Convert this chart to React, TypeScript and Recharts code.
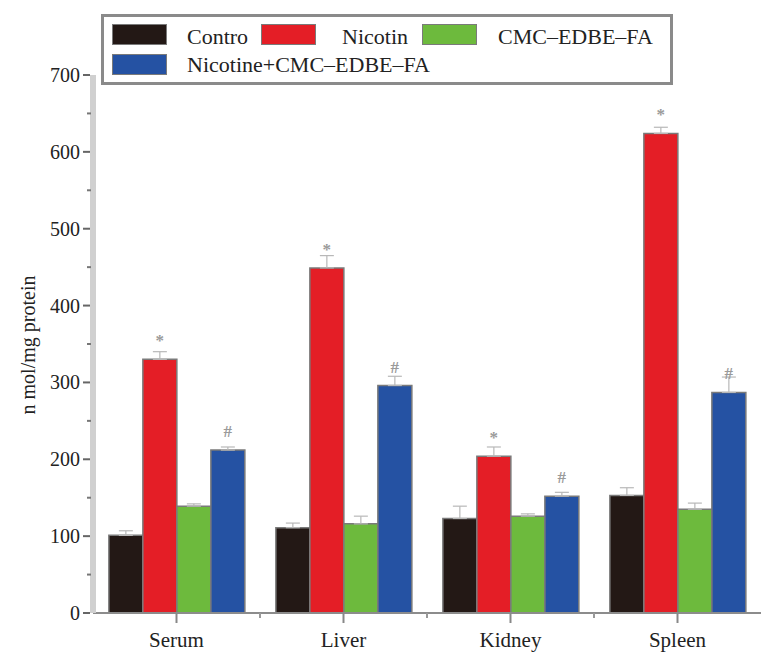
import React from 'react';
import { BarChart, Bar, XAxis, YAxis, ErrorBar, LabelList } from 'recharts';

const categories = ['Serum', 'Liver', 'Kidney', 'Spleen'];
const controlValues = [101, 111, 123, 153];
const nicotinValues = [330, 449, 204, 624];
const cmcValues = [139, 116, 126, 135];
const comboValues = [212, 296, 152, 287];
const controlErrors = [6, 6, 16, 10];
const nicotinErrors = [10, 16, 12, 8];
const cmcErrors = [3, 10, 3, 8];
const comboErrors = [4, 12, 5, 20];
const yTicks = [0, 50, 100, 150, 200, 250, 300, 350, 400, 450, 500, 550, 600, 650, 700];

const seriesNames = ['Contro', 'Nicotin', 'CMC–EDBE–FA', 'Nicotine+CMC–EDBE–FA'];
const seriesColors = ['#231815', '#e41e26', '#6dba3d', '#2552a3'];

const data = categories.map((c, i) => ({
  name: c,
  control: controlValues[i],
  nicotin: nicotinValues[i],
  cmc: cmcValues[i],
  combo: comboValues[i],
  controlErr: [0, controlErrors[i]],
  nicotinErr: [0, nicotinErrors[i]],
  cmcErr: [0, cmcErrors[i]],
  comboErr: [0, comboErrors[i]],
}));

const W = 767;
const H = 662;
const YAXIS_W = 93;
const MARGIN = { top: 75, right: 6, bottom: 0, left: 0 };
const XAXIS_H = 49;
const FONT = 'Liberation Serif, Times New Roman, serif';
const BAND_HALF = (W - MARGIN.right - YAXIS_W) / categories.length / 2;

const YTick = (props: any) => {
  const { x, y, payload } = props;
  const v = payload.value;
  const major = v % 100 === 0;
  return (
    <g>
      {major ? (
        <line x1={x - 10} x2={x - 3} y1={y} y2={y} stroke="#666" strokeWidth={2} />
      ) : (
        <line x1={x - 6} x2={x - 2} y1={y} y2={y} stroke="#777" strokeWidth={2} />
      )}
      {major && (
        <text x={x - 13} y={y} textAnchor="end" dominantBaseline="central" fontFamily={FONT} fontSize={20} fill="#222">
          {v}
        </text>
      )}
    </g>
  );
};

const XTick = (props: any) => {
  const { x, y, payload, index } = props;
  return (
    <g>
      <line x1={x} x2={x} y1={y} y2={y + 10} stroke="#888" strokeWidth={2} />
      {index < categories.length - 1 && (
        <line x1={x + BAND_HALF} x2={x + BAND_HALF} y1={y} y2={y + 5} stroke="#999" strokeWidth={2} />
      )}
      <text x={x} y={y + 34} textAnchor="middle" fontFamily={FONT} fontSize={21} fill="#222">
        {payload.value}
      </text>
    </g>
  );
};

const markLabel = (mark: string) => (props: any) => {
  const { x, y, width } = props;
  return (
    <text x={x + width / 2} y={y - 13} textAnchor="middle" fontFamily={FONT} fontSize={17} fontWeight="bold" fill="#9a9a9a">
      {mark}
    </text>
  );
};

const legendItems = [
  { sx: 112, sy: 24, tx: 187, ty: 26 },
  { sx: 261, sy: 24, tx: 342, ty: 26 },
  { sx: 422, sy: 24, tx: 498, ty: 26 },
  { sx: 112, sy: 54, tx: 187, ty: 54 },
];

export default function App() {
  return (
    <div style={{ position: 'absolute', left: 0, top: 0, width: W, height: H, background: '#fff' }}>
      <BarChart
        width={W}
        height={H}
        data={data}
        margin={MARGIN}
        barCategoryGap="9.5%"
        barGap={0}
      >
        <XAxis
          dataKey="name"
          height={XAXIS_H}
          axisLine={{ stroke: '#8c8c8c', strokeWidth: 2 }}
          tickLine={false}
          tickSize={0}
          tickMargin={0}
          tick={<XTick />}
          interval={0}
        />
        <YAxis
          width={YAXIS_W}
          domain={[0, 700]}
          ticks={yTicks}
          interval={0}
          axisLine={{ stroke: '#d0d0d0', strokeWidth: 6 }}
          tickLine={false}
          tickSize={0}
          tickMargin={0}
          tick={<YTick />}
          label={{
            content: () => (
              <text
                x={28}
                y={345}
                transform="rotate(-90 28 345)"
                textAnchor="middle"
                dominantBaseline="central"
                fontFamily={FONT}
                fontSize={20}
                fill="#222"
              >
                n mol/mg protein
              </text>
            ),
          }}
        />
        <Bar dataKey="control" fill={seriesColors[0]} stroke="#7a7a7a" strokeWidth={1.5} isAnimationActive={false}>
          <ErrorBar dataKey="controlErr" width={7} stroke="#b8b8b8" strokeWidth={1.2} direction="y" />
        </Bar>
        <Bar dataKey="nicotin" fill={seriesColors[1]} stroke="#7a7a7a" strokeWidth={1.5} isAnimationActive={false}>
          <ErrorBar dataKey="nicotinErr" width={7} stroke="#b8b8b8" strokeWidth={1.2} direction="y" />
          <LabelList dataKey="nicotin" content={markLabel('*')} />
        </Bar>
        <Bar dataKey="cmc" fill={seriesColors[2]} stroke="#7a7a7a" strokeWidth={1.5} isAnimationActive={false}>
          <ErrorBar dataKey="cmcErr" width={7} stroke="#b8b8b8" strokeWidth={1.2} direction="y" />
        </Bar>
        <Bar dataKey="combo" fill={seriesColors[3]} stroke="#7a7a7a" strokeWidth={1.5} isAnimationActive={false}>
          <ErrorBar dataKey="comboErr" width={7} stroke="#b8b8b8" strokeWidth={1.2} direction="y" />
          <LabelList dataKey="combo" content={markLabel('#')} />
        </Bar>
      </BarChart>
      <div
        style={{
          position: 'absolute',
          left: 101,
          top: 14,
          width: 572,
          height: 71,
          boxSizing: 'border-box',
          border: '3px solid #8a8a8a',
          background: '#fff',
        }}
      />
      {legendItems.map((p, i) => (
        <React.Fragment key={seriesNames[i]}>
          <div
            style={{
              position: 'absolute',
              left: p.sx,
              top: p.sy,
              width: 55,
              height: 21,
              boxSizing: 'border-box',
              background: seriesColors[i],
              border: '1.5px solid #7a7a7a',
            }}
          />
          <div
            style={{
              position: 'absolute',
              left: p.tx,
              top: p.ty,
              fontFamily: FONT,
              fontSize: 22,
              lineHeight: '22px',
              color: '#222',
              whiteSpace: 'nowrap',
            }}
          >
            {seriesNames[i]}
          </div>
        </React.Fragment>
      ))}
    </div>
  );
}
